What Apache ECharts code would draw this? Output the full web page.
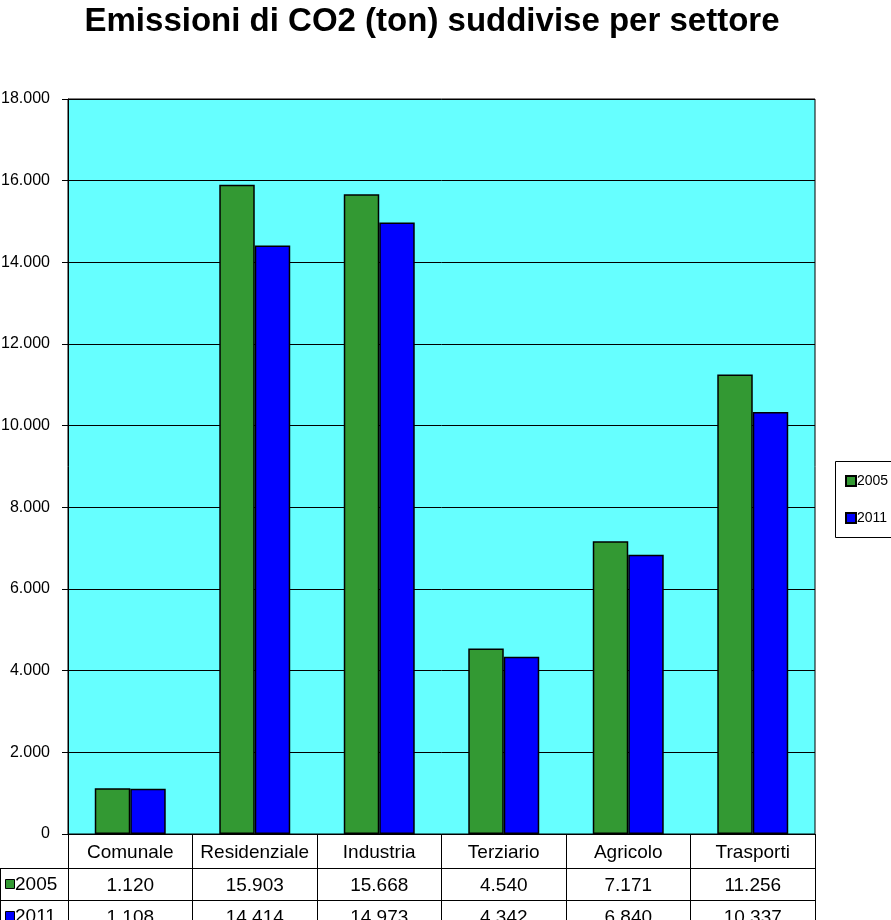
<!DOCTYPE html>
<html>
<head>
<meta charset="utf-8">
<script src="https://cdn.jsdelivr.net/npm/echarts@6/dist/echarts.min.js"></script>
<style>html,body{margin:0;padding:0;background:#fff;}#c{width:891px;height:920px;}</style>
</head>
<body>
<div id="c"></div>
<script>
const titleText = 'Emissioni di CO2 (ton) suddivise per settore';
const categories = ['Comunale', 'Residenziale', 'Industria', 'Terziario', 'Agricolo', 'Trasporti'];
const seriesNames = ['2005', '2011'];
const values2005 = [1120, 15903, 15668, 4540, 7171, 11256];
const values2011 = [1108, 14414, 14973, 4342, 6840, 10337];
const yTicks = [0, 2000, 4000, 6000, 8000, 10000, 12000, 14000, 16000, 18000];

const FONT = 'Liberation Sans, Arial, sans-serif';
function fmt(v) {
  return String(v).replace(/\B(?=(\d{3})+(?!\d))/g, '.');
}

const chart = echarts.init(document.getElementById('c'), null, {renderer: 'canvas'});
const baseX = {
  type: 'category',
  data: categories,
  position: 'bottom',
  axisLine: {show: true, lineStyle: {color: '#000', width: 1}},
  axisTick: {show: true, length: 34, alignWithLabel: false, interval: 0, lineStyle: {color: '#000'}},
  axisLabel: {color: '#000', fontFamily: FONT, fontSize: 19, interval: 0}
};
chart.setOption({
  animation: false,
  backgroundColor: '#fff',
  title: {
    text: titleText,
    left: 427, top: 0, textAlign: 'center',
    textStyle: {fontFamily: FONT, fontWeight: 'bold', fontSize: 33, color: '#000'}
  },
  legend: {
    data: seriesNames,
    orient: 'vertical',
    left: 845, top: 474,
    padding: 0,
    itemGap: 23,
    itemWidth: 10, itemHeight: 10,
    icon: 'rect',
    textStyle: {fontFamily: FONT, fontSize: 14, color: '#000', padding: [0, 0, 0, -4]}
  },
  grid: {
    left: 68, right: 76, top: 99, bottom: 86,
    containLabel: false, outerBoundsMode: 'none',
    show: true, backgroundColor: '#66ffff', borderColor: '#000', borderWidth: 1
  },
  xAxis: [
    Object.assign({}, baseX, {axisLabel: Object.assign({}, baseX.axisLabel, {margin: 9})}),
    Object.assign({}, baseX, {offset: 34, axisTick: Object.assign({}, baseX.axisTick, {length: 32}),
      axisLabel: Object.assign({}, baseX.axisLabel, {margin: 8, formatter: (v, i) => fmt(values2005[i])})}),
    Object.assign({}, baseX, {offset: 66, axisTick: Object.assign({}, baseX.axisTick, {length: 32}),
      axisLabel: Object.assign({}, baseX.axisLabel, {margin: 8, formatter: (v, i) => fmt(values2011[i])})})
  ],
  yAxis: {
    type: 'value',
    min: yTicks[0], max: yTicks[yTicks.length - 1], interval: 2000,
    axisLine: {show: true, lineStyle: {color: '#000'}},
    axisTick: {show: true, length: 6, lineStyle: {color: '#000'}},
    splitLine: {show: true, lineStyle: {color: '#000', width: 1}},
    axisLabel: {color: '#000', fontFamily: FONT, fontSize: 16, margin: 18, formatter: v => fmt(v)}
  },
  series: [
    {name: seriesNames[0], type: 'bar', xAxisIndex: 0, data: values2005, barGap: '0%', barCategoryGap: '43%',
     itemStyle: {color: '#339933', borderColor: '#000', borderWidth: 1.5}},
    {name: seriesNames[1], type: 'bar', xAxisIndex: 0, data: values2011, barGap: '0%', barCategoryGap: '43%',
     itemStyle: {color: '#0000ff', borderColor: '#000', borderWidth: 1.5}}
  ],
  graphic: [
    {type: 'rect', shape: {x: 835.5, y: 461.5, width: 70, height: 76}, style: {fill: '#fff', stroke: '#000', lineWidth: 1}, z: -1},
    {type: 'line', shape: {x1: 0, y1: 868.5, x2: 68, y2: 868.5}, style: {stroke: '#000', lineWidth: 1}},
    {type: 'line', shape: {x1: 0, y1: 900.5, x2: 68, y2: 900.5}, style: {stroke: '#000', lineWidth: 1}},
    {type: 'line', shape: {x1: 0.5, y1: 868, x2: 0.5, y2: 920}, style: {stroke: '#000', lineWidth: 1}},
    {type: 'rect', shape: {x: 5.5, y: 879.5, width: 9, height: 9}, style: {fill: '#339933', stroke: '#000', lineWidth: 1}},
    {type: 'text', x: 15, y: 885, style: {text: seriesNames[0], fontFamily: FONT, fontSize: 19, fill: '#000', textVerticalAlign: 'middle'}},
    {type: 'rect', shape: {x: 5.5, y: 911.5, width: 9, height: 9}, style: {fill: '#0000ff', stroke: '#000', lineWidth: 1}},
    {type: 'text', x: 15, y: 917, style: {text: seriesNames[1], fontFamily: FONT, fontSize: 19, fill: '#000', textVerticalAlign: 'middle'}}
  ]
});
</script>
</body>
</html>
